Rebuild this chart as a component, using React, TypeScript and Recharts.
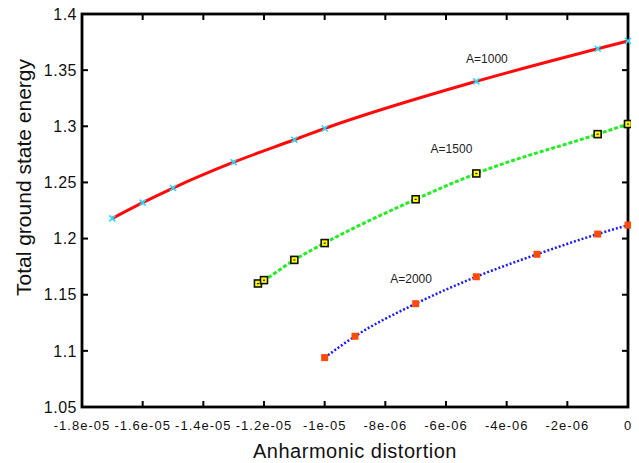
import React from "react";
import {
  LineChart,
  Line,
  XAxis,
  YAxis,
  ReferenceDot,
  ReferenceArea,
  ReferenceLine,
} from "recharts";

// distortion (x) and energy (y) for each A
const a1000X = [-1.7e-5, -1.6e-5, -1.5e-5, -1.3e-5, -1.1e-5, -1e-5, -5e-6, -1e-6, 0];
const a1000Y = [1.218, 1.232, 1.245, 1.268, 1.288, 1.298, 1.34, 1.369, 1.376];

const a1500X = [-1.22e-5, -1.2e-5, -1.1e-5, -1e-5, -7e-6, -5e-6, -1e-6, 0];
const a1500Y = [1.16, 1.163, 1.181, 1.196, 1.235, 1.258, 1.293, 1.302];

const a2000X = [-1e-5, -9e-6, -7e-6, -5e-6, -3e-6, -1e-6, 0];
const a2000Y = [1.094, 1.113, 1.142, 1.166, 1.186, 1.204, 1.212];

const xTicks = [-1.8e-5, -1.6e-5, -1.4e-5, -1.2e-5, -1e-5, -8e-6, -6e-6, -4e-6, -2e-6, 0];
const yTicks = [1.05, 1.1, 1.15, 1.2, 1.25, 1.3, 1.35, 1.4];

const labels = [
  { text: "A=1000", x: -4.65e-6, y: 1.36 },
  { text: "A=1500", x: -5.82e-6, y: 1.28 },
  { text: "A=2000", x: -7.15e-6, y: 1.164 },
];

const zip = (xs: number[], ys: number[]) => xs.map((x, i) => ({ x, y: ys[i] }));

const FONT = '"Liberation Sans", Arial, Helvetica, sans-serif';
const TICK = 6;

const fmtX = (v: number) =>
  v === 0 ? "0" : v.toExponential().replace(/e([+-])(\d)$/, "e$10$2");

// inward tick marks at both ends of each full reference line
const vTicks = (p: any) => {
  const x = Number(p.x1);
  const top = Math.min(Number(p.y1), Number(p.y2));
  const bot = Math.max(Number(p.y1), Number(p.y2));
  return (
    <g>
      <rect x={x - 1} y={top} width={2} height={TICK} fill="#000" />
      <rect x={x - 1} y={bot - TICK} width={2} height={TICK} fill="#000" />
    </g>
  );
};

const hTicks = (p: any) => {
  const y = Number(p.y1);
  const l = Math.min(Number(p.x1), Number(p.x2));
  const r = Math.max(Number(p.x1), Number(p.x2));
  return (
    <g>
      <rect x={l} y={y - 1} width={TICK} height={2} fill="#000" />
      <rect x={r - TICK} y={y - 1} width={TICK} height={2} fill="#000" />
    </g>
  );
};

const frame = (p: any) => (
  <rect x={p.x} y={p.y} width={p.width} height={p.height} fill="none" stroke="#000" strokeWidth={2.8} />
);

const crossDot = (p: any) => {
  const { cx, cy, index } = p;
  const s = 3;
  return (
    <g key={`x-${index}`}>
      <line x1={cx - s} y1={cy - s} x2={cx + s} y2={cy + s} stroke="#22ddff" strokeWidth={1.6} />
      <line x1={cx - s} y1={cy + s} x2={cx + s} y2={cy - s} stroke="#22ddff" strokeWidth={1.6} />
    </g>
  );
};

const yellowSquare = (p: any) => {
  const { cx, cy, index } = p;
  return (
    <g key={`s-${index}`}>
      <rect x={cx - 3.5} y={cy - 3.5} width={7} height={7} fill="#ffff00" stroke="#111" strokeWidth={1.6} />
      <rect x={cx - 1} y={cy - 0.5} width={2} height={1.2} fill="#111" />
    </g>
  );
};

const orangeSquare = (p: any) => {
  const { cx, cy, index } = p;
  return <rect key={`o-${index}`} x={cx - 3.5} y={cy - 3.5} width={7} height={7} fill="#ff4a0a" />;
};

const yTitle = (props: any) => {
  const { viewBox } = props;
  const x = 15.5;
  const y = viewBox.y + viewBox.height / 2 - 33;
  return (
    <text
      x={x}
      y={y}
      transform={`rotate(-90 ${x} ${y})`}
      textAnchor="middle"
      dominantBaseline="central"
      fontSize={21}
      fontFamily={FONT}
      fill="#111"
    >
      Total ground state energy
    </text>
  );
};

export default function App() {
  return (
    <LineChart
      width={631}
      height={455}
      margin={{ top: 6, right: 11, left: 0, bottom: 0 }}
      style={{ fontFamily: FONT }}
    >
      <XAxis
        dataKey="x"
        type="number"
        domain={[-1.8e-5, 0]}
        ticks={xTicks}
        tickFormatter={fmtX}
        interval={0}
        height={56}
        axisLine={false}
        tickLine={false}
        tickSize={0}
        tickMargin={14}
        tick={{ fontSize: 13, fill: "#111", letterSpacing: 1 }}
        label={{ value: "Anharmonic distortion", position: "insideBottom", offset: 5, fontSize: 20, fill: "#111", letterSpacing: 0.5 }}
      />
      <YAxis
        type="number"
        domain={[1.05, 1.4]}
        ticks={yTicks}
        interval={0}
        width={74}
        axisLine={false}
        tickLine={false}
        tickSize={0}
        tickMargin={5}
        tick={{ fontSize: 16, fill: "#111", letterSpacing: 0.5 }}
        label={yTitle}
      />
      {xTicks.map((t) => (
        <ReferenceLine key={`xt-${t}`} x={t} stroke="#000" shape={vTicks} ifOverflow="extendDomain" />
      ))}
      {yTicks.map((t) => (
        <ReferenceLine key={`yt-${t}`} y={t} stroke="#000" shape={hTicks} ifOverflow="extendDomain" />
      ))}
      <ReferenceArea x1={-1.8e-5} x2={0} y1={1.05} y2={1.4} shape={frame} ifOverflow="extendDomain" />
      <Line
        data={zip(a1000X, a1000Y)}
        dataKey="y"
        type="monotone"
        stroke="#ff0a0a"
        strokeWidth={3}
        dot={crossDot}
        activeDot={false}
        isAnimationActive={false}
      />
      <Line
        data={zip(a1500X, a1500Y)}
        dataKey="y"
        type="monotone"
        stroke="#22ee22"
        strokeWidth={3}
        strokeDasharray="4 2"
        dot={yellowSquare}
        activeDot={false}
        isAnimationActive={false}
      />
      <Line
        data={zip(a2000X, a2000Y)}
        dataKey="y"
        type="monotone"
        stroke="#1a1aff"
        strokeWidth={2.5}
        strokeDasharray="2 2"
        dot={orangeSquare}
        activeDot={false}
        isAnimationActive={false}
      />
      {labels.map((l) => (
        <ReferenceDot
          key={l.text}
          x={l.x}
          y={l.y}
          r={0}
          fill="none"
          stroke="none"
          label={{ value: l.text, position: "center", fontSize: 12, fill: "#222" }}
        />
      ))}
    </LineChart>
  );
}
